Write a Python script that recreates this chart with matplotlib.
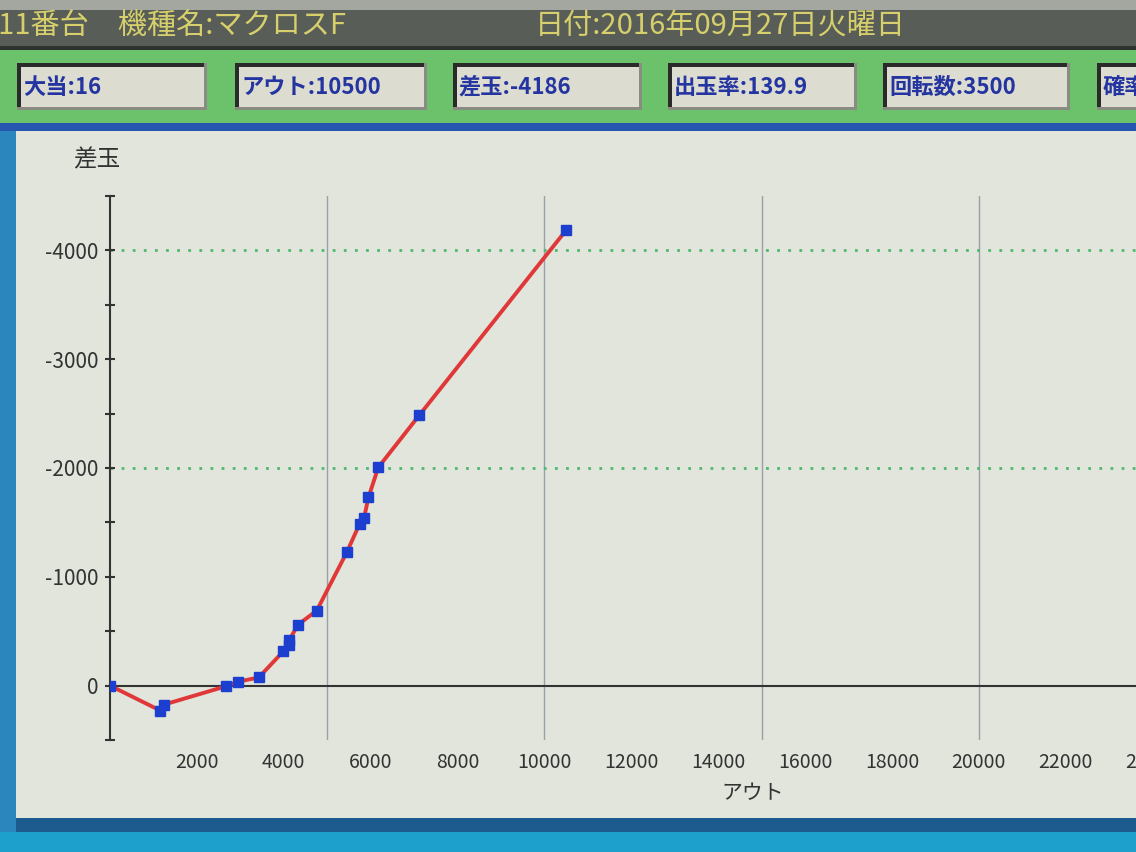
import matplotlib
matplotlib.use('Agg')
import matplotlib.pyplot as plt
from matplotlib.patches import Rectangle
from matplotlib.ticker import MultipleLocator

plt.rcParams['font.family'] = ['Noto Sans CJK JP', 'DejaVu Sans']

# data
out = [0, 1160, 1240, 2680, 2940, 3425, 3990, 4110, 4120, 4330, 4760,
       5450, 5745, 5850, 5950, 6175, 7120, 10500]
sadama = [0, 230, 175, 5, -35, -75, -315, -370, -415, -560, -690,
          -1225, -1485, -1545, -1730, -2005, -2485, -4186]

header_left = '11番台　機種名:マクロスF'
header_date = '日付:2016年09月27日火曜日'
box_labels = ['大当:16', 'アウト:10500', '差玉:-4186', '出玉率:139.9', '回転数:3500', '確率']
box_edges = [(17, 207), (235, 427), (453, 642), (668, 857), (883, 1070), (1097, 1160)]

x_ticks = list(range(2000, 26000, 2000))
y_ticks = [-4000, -3000, -2000, -1000, 0]
x_grid = [5000, 10000, 15000, 20000]
y_grid = [-4000, -2000]

W, H = 1136, 852
fig = plt.figure(figsize=(W / 100, H / 100), dpi=100)
fig.patch.set_facecolor('#e1e5dc')


def rect(x0, y0, x1, y1, color, z=0):
    # pixel box (top-left origin) -> figure fraction
    fig.patches.append(Rectangle((x0 / W, 1 - y1 / H), (x1 - x0) / W, (y1 - y0) / H,
                                 transform=fig.transFigure, facecolor=color,
                                 edgecolor='none', zorder=z))


def ftext(x, y, s, **kw):
    fig.text(x / W, 1 - y / H, s, **kw)


# screen frame
rect(0, 0, W, 10, '#a4a6a0')
rect(0, 10, W, 46, '#585d58')
rect(0, 46, W, 50, '#2e332e')
rect(0, 50, W, 123, '#6cc26a')
rect(0, 123, W, 131, '#2656b0')
rect(0, 131, 16, H, '#2a86bd')
rect(16, 818, W, 832, '#1d5a8e')
rect(0, 832, W, H, '#1ea0cc')

ftext(-2, 27, header_left, color='#d6cf6c', fontsize=21, va='center', ha='left')
ftext(535, 27, header_date, color='#d6cf6c', fontsize=21, va='center', ha='left')

for (bx0, bx1), lab in zip(box_edges, box_labels):
    rect(bx0, 63, bx1, 110, '#8a8c84', 1)
    rect(bx0, 63, bx1 - 3, 107, '#2a2a2a', 1)
    rect(bx0 + 4, 67, bx1 - 3, 107, '#dcdcd0', 1)
    ftext(bx0 + 6, 87, lab, color='#2434a0', fontsize=16, fontweight='bold',
          va='center', ha='left')

# chart area
ax = fig.add_axes([110 / W, 1 - 740 / H, 1086 / W, 544 / H])
ax.set_facecolor('none')
ax.set_xlim(0, 25000)
ax.set_ylim(500, -4500)

for gx in x_grid:
    ax.axvline(gx, color='#98a0a8', lw=1, zorder=1)
for gy in y_grid:
    ax.axhline(gy, color='#50b870', lw=2, ls=(0, (1, 3)), zorder=1)
ax.axhline(0, color='#333333', lw=1.5, zorder=2)

ax.plot(out, sadama, color='#e03838', lw=2.8, zorder=3)
ax.plot(out, sadama, ls='none', marker='s', ms=6.5, color='#1d3fd0', zorder=4)

for side in ['top', 'right', 'bottom']:
    ax.spines[side].set_visible(False)
ax.spines['left'].set_color('#333333')
ax.spines['left'].set_linewidth(1.5)

ax.set_xticks(x_ticks)
ax.set_xticklabels([str(v) for v in x_ticks])
ax.set_yticks(y_ticks)
ax.set_yticklabels([str(v) for v in y_ticks])
ax.yaxis.set_minor_locator(MultipleLocator(500))
ax.tick_params(axis='x', length=0, pad=9, labelsize=14, labelcolor='#333333')
ax.tick_params(axis='y', which='both', direction='inout', length=7, width=1.5,
               color='#333333', pad=5, labelsize=15, labelcolor='#333333')

ftext(97, 160, '差玉', color='#333333', fontsize=17, ha='center', va='center')
ftext(753, 793, 'アウト', color='#333333', fontsize=15, ha='center', va='center')

fig.savefig('out.png', dpi=100)
